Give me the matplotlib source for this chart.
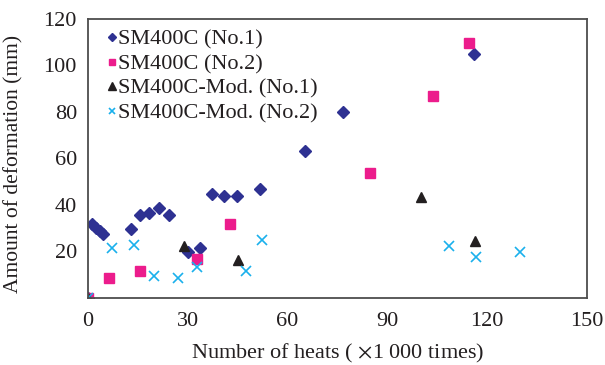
import matplotlib
matplotlib.use("Agg")
import matplotlib.pyplot as plt

plt.rcParams['font.family'] = ['Liberation Serif', 'DejaVu Serif']
plt.rcParams['mathtext.fontset'] = 'stix'

s1_x = [0, 1.2, 2.4, 3.6, 4.6, 12.8, 15.6, 18.3, 21.3, 24.4, 30.2, 33.7, 37.2, 41.0, 44.9, 51.7, 65.2, 76.7, 116.1]
s1_y = [0, 31.8, 30.1, 28.8, 27.5, 29.7, 35.7, 36.7, 38.6, 35.7, 19.6, 21.6, 44.9, 43.7, 43.7, 46.8, 63.2, 79.9, 104.9]

s2_x = [0, 6.4, 15.7, 32.9, 42.7, 84.8, 103.6, 114.5]
s2_y = [0, 8.6, 11.6, 16.8, 31.7, 53.8, 86.7, 109.8]

m1_x = [0, 28.9, 45.0, 100.1, 116.3]
m1_y = [0, 22.4, 16.3, 43.6, 24.7]

m2_x = [0, 7.2, 13.8, 19.8, 27.2, 32.9, 47.6, 52.3, 108.4, 116.7, 129.8]
m2_y = [0, 21.6, 22.6, 9.6, 8.7, 13.5, 11.6, 24.8, 22.5, 17.6, 19.8]

labels = ['SM400C (No.1)', 'SM400C (No.2)', 'SM400C-Mod. (No.1)', 'SM400C-Mod. (No.2)']
xticks = [0, 30, 60, 90, 120, 150]
yticks = [20, 40, 60, 80, 100, 120]

fig = plt.figure(figsize=(6.05, 3.65), dpi=100)
ax = fig.add_axes([0.1455, 0.1836, 0.8245, 0.7644])

ax.plot(s1_x, s1_y, linestyle='none', marker='D', markersize=6.5, color='#2e3192', label=labels[0])
ax.plot(s2_x, s2_y, linestyle='none', marker='s', markersize=6.5, color='#ec1c8c', label=labels[1])
ax.plot(m1_x, m1_y, linestyle='none', marker='^', markersize=7.5, color='#231f20', label=labels[2])
ax.plot(m2_x, m2_y, linestyle='none', marker='x', markersize=7, markeredgewidth=1.2, color='#1ab0ec', label=labels[3])

ax.set_xlim(0, 150)
ax.set_ylim(0, 120)
ax.set_xticks(xticks)
ax.set_yticks(yticks)
ax.tick_params(length=0, labelsize=16, colors='#231f20')
ax.tick_params(axis='x', pad=10)
ax.tick_params(axis='y', pad=8)
for sp in ax.spines.values():
    sp.set_color('#4d4d4d')
    sp.set_linewidth(1.3)

ax.set_xlabel('Number of heats ( $\\times$1 000 times)', fontsize=16, color='#231f20', labelpad=8)
ax.set_ylabel('Amount of deformation (mm)', fontsize=15.5, color='#231f20', labelpad=9)
ax.yaxis.set_label_coords(-0.13, 0.48)

leg = ax.legend(loc='upper left', frameon=False, fontsize=16, handlelength=0.3, handletextpad=0.15,
                borderaxespad=0.0, labelspacing=0.18, markerscale=0.7, bbox_to_anchor=(0.023, 0.995))
for t in leg.get_texts():
    t.set_color('#231f20')

fig.savefig('out.png', dpi=100)
